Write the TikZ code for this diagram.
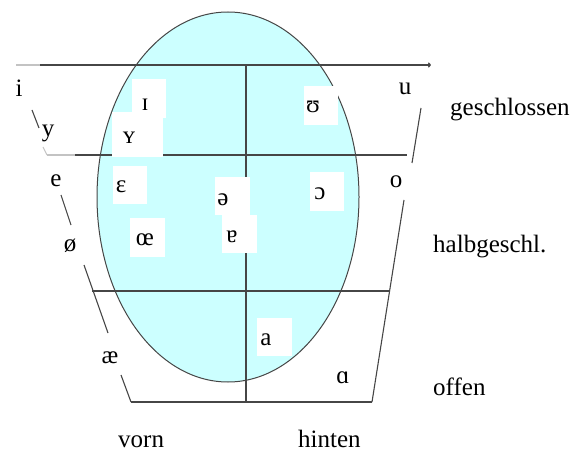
\documentclass[tikz,border=0pt]{standalone}
\usepackage{fontspec}
\setmainfont{Liberation Serif}
\usetikzlibrary{arrows.meta}
\definecolor{vfill}{RGB}{204,255,255}
\definecolor{vline}{RGB}{70,70,70}
\definecolor{vlight}{RGB}{195,195,195}
\begin{document}
\begin{tikzpicture}[x=1pt,y=-1pt,
  ln/.style={draw=vline,line width=1.1pt},
  lt/.style={draw=vlight,line width=1.1pt},
  wbox/.style={fill=white,draw=none,inner sep=0pt},
  ipa/.style={font=\fontsize{25}{30}\selectfont,inner sep=0pt,anchor=base},
  lab/.style={font=\fontsize{25}{30}\selectfont,inner sep=0pt,anchor=base west}]
\useasboundingbox (0,0) rectangle (585,454);

% ellipse (vowel space)
\coordinate (EC) at (228,197);
\fill[vfill] (EC) ellipse [x radius=131pt, y radius=185pt];
\draw[vline,line width=1pt] (EC) ellipse [x radius=131pt, y radius=185pt];

% grid coordinates
\coordinate (TL) at (16,65);   \coordinate (TLd) at (40,65);  \coordinate (TR) at (431,65);
\coordinate (ML) at (47,155);  \coordinate (MLd) at (75,155); \coordinate (MR) at (407,155);
\coordinate (LL) at (92,291);  \coordinate (LR) at (389,291);
\coordinate (BL) at (131,402); \coordinate (BR) at (372,402);
\coordinate (VT) at (246,65);  \coordinate (VB) at (246,402);

% horizontal lines
\draw[lt] (TL) -- (TLd);
\draw[ln,-{To[length=3pt,width=5pt]}] (TLd) -- (TR);
\draw[lt] (ML) -- (MLd);
\draw[ln] (MLd) -- (MR);
\draw[ln] (LL) -- (LR);
\draw[ln] (BL) -- (BR);
% vertical line
\draw[ln] (VT) -- (VB);

% left boundary (broken around letters)
\coordinate (L1a) at (32,110);  \coordinate (L1b) at (39,128);
\coordinate (L2a) at (43,147);  \coordinate (L2b) at (47,155);
\coordinate (L3a) at (61,195);  \coordinate (L3b) at (71,225);
\coordinate (L4a) at (84,265);  \coordinate (L4b) at (108,333);
\coordinate (L5a) at (121,375);
\draw[ln] (L1a) -- (L1b);
\draw[lt] (L2a) -- (L2b);
\draw[ln] (L3a) -- (L3b);
\draw[ln] (L4a) -- (L4b);
\draw[ln] (L5a) -- (BL);

% right boundary
\coordinate (R1a) at (421,108); \coordinate (R1b) at (412,163);
\coordinate (R2a) at (404,200);
\draw[ln] (R1a) -- (R1b);
\draw[ln] (R2a) -- (BR);

% white boxes
\node[wbox,minimum width=34pt,minimum height=39pt] (bI)  at (149,98.5) {};
\node[wbox,minimum width=51pt,minimum height=45pt] (bY)  at (137.5,134.5) {};
\node[wbox,minimum width=34pt,minimum height=38pt] (bE)  at (130,185) {};
\node[wbox,minimum width=35pt,minimum height=39pt] (bOE) at (147.5,237.5) {};
\node[wbox,minimum width=35pt,minimum height=38pt] (bSchwa) at (232.5,196) {};
\node[wbox,minimum width=35pt,minimum height=38pt] (bTa) at (239.5,234) {};
\node[wbox,minimum width=34pt,minimum height=39pt] (bOO) at (327,191.5) {};
\node[wbox,minimum width=34pt,minimum height=39pt] (bU)  at (321,105.5) {};
\node[wbox,minimum width=35pt,minimum height=38pt] (bA)  at (274.5,337) {};

% vowels
\node[ipa] (vi)  at (19,97)   {i};
\node[ipa] (vy)  at (48,137)  {y};
\node[ipa] (ve)  at (56,186)  {e};
\node[ipa] (voe) at (70,251)  {ø};
\node[ipa] (vae) at (110,363) {æ};
\node[ipa] (vu)  at (405,95)  {u};
\node[ipa] (vo)  at (396,188) {o};
\node[ipa] (vaa) at (343,383) {ɑ};
\node[ipa] (vI)  at (145,111) {ɪ};
\node[ipa] (vY)  at (129,144) {ʏ};
\node[ipa] (vE)  at (121,193) {ɛ};
\node[ipa] (vOE) at (145,245) {œ};
\node[ipa] (vSchwa) at (223,205) {ə};
\node[ipa] (vTa) at (232,242) {ɐ};
\node[ipa] (vOO) at (320,200) {ɔ};
\node[ipa] (vU)  at (313,113) {ʊ};
\node[ipa] (vA)  at (266,345) {a};

% labels
\node[lab] (lg) at (450,116) {geschlossen};
\node[lab] (lh) at (433,252) {halbgeschl.};
\node[lab] (lo) at (433,395) {offen};
\node[lab] (lv) at (118,447) {vorn};
\node[lab] (lt) at (298,447) {hinten};
\end{tikzpicture}
\end{document}
